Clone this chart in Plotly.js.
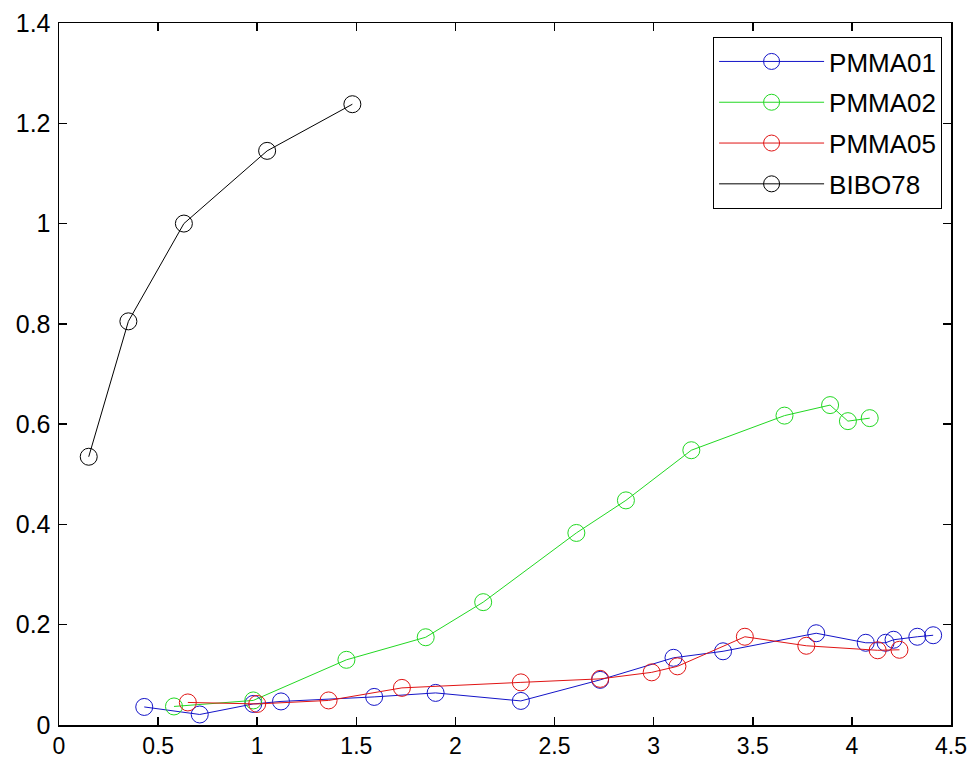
<!DOCTYPE html>
<html>
<head>
<meta charset="utf-8">
<script src="https://cdn.plot.ly/plotly-3.0.1.min.js"></script>
<style>html,body{margin:0;padding:0;background:#fff;}#chart{width:971px;height:758px;}</style>
</head>
<body>
<div id="chart"></div>
<script>
const pmma01_x = [0.43, 0.71, 0.98, 1.12, 1.59, 1.90, 2.33, 2.73, 3.10, 3.35, 3.82, 4.07, 4.17, 4.21, 4.33, 4.41];
const pmma01_y = [0.036, 0.021, 0.042, 0.047, 0.056, 0.064, 0.048, 0.090, 0.134, 0.147, 0.183, 0.164, 0.164, 0.170, 0.176, 0.179];
const pmma02_x = [0.58, 0.98, 1.45, 1.85, 2.14, 2.61, 2.86, 3.19, 3.66, 3.89, 3.98, 4.09];
const pmma02_y = [0.037, 0.049, 0.130, 0.175, 0.245, 0.383, 0.448, 0.548, 0.617, 0.638, 0.606, 0.612];
const pmma05_x = [0.65, 1.00, 1.36, 1.73, 2.33, 2.73, 2.99, 3.12, 3.46, 3.77, 4.13, 4.24];
const pmma05_y = [0.045, 0.042, 0.049, 0.074, 0.085, 0.092, 0.105, 0.117, 0.176, 0.158, 0.149, 0.150];
const bibo78_x = [0.15, 0.35, 0.63, 1.05, 1.48];
const bibo78_y = [0.535, 0.805, 1.000, 1.145, 1.238];
const seriesNames = ['PMMA01', 'PMMA02', 'PMMA05', 'BIBO78'];
const seriesColors = ['#1414c8', '#22d822', '#e01414', '#000000'];
const xs = [pmma01_x, pmma02_x, pmma05_x, bibo78_x];
const ys = [pmma01_y, pmma02_y, pmma05_y, bibo78_y];

const traces = seriesNames.map((n, i) => ({
  x: xs[i], y: ys[i], name: n, legendgroup: n, type: 'scatter', mode: 'lines+markers',
  line: {color: seriesColors[i], width: 1},
  marker: {symbol: 'circle-open', size: 17, color: seriesColors[i], line: {width: 1, color: seriesColors[i]}}
}));

const axisCommon = {
  showgrid: false, zeroline: false, showline: true, linecolor: '#000', linewidth: 1.5,
  mirror: 'ticks', ticks: 'inside', ticklen: 8, tickwidth: 1.5, tickcolor: '#000'
};

const layout = {
  width: 971, height: 758,
  margin: {l: 59, r: 20, t: 23, b: 33},
  paper_bgcolor: '#fff', plot_bgcolor: '#fff',
  xaxis: Object.assign({}, axisCommon, {range: [0, 4.5], dtick: 0.5, tick0: 0,
    tickfont: {family: 'Liberation Sans, Arial, sans-serif', size: 23, color: '#000'}}),
  yaxis: Object.assign({}, axisCommon, {range: [0, 1.4], dtick: 0.2, tick0: 0, ticklabelstandoff: 2,
    tickfont: {family: 'Liberation Sans, Arial, sans-serif', size: 25, color: '#000'}}),
  showlegend: true,
  legend: {
    x: 0.99, y: 0.98, xanchor: 'right', yanchor: 'top',
    bgcolor: '#fff', bordercolor: '#000', borderwidth: 1,
    font: {family: 'Liberation Sans, Arial, sans-serif', size: 26, color: '#000'},
    itemwidth: 105, tracegroupgap: 4
  }
};

Plotly.newPlot('chart', traces, layout, {displayModeBar: false, staticPlot: true});
</script>
</body>
</html>
